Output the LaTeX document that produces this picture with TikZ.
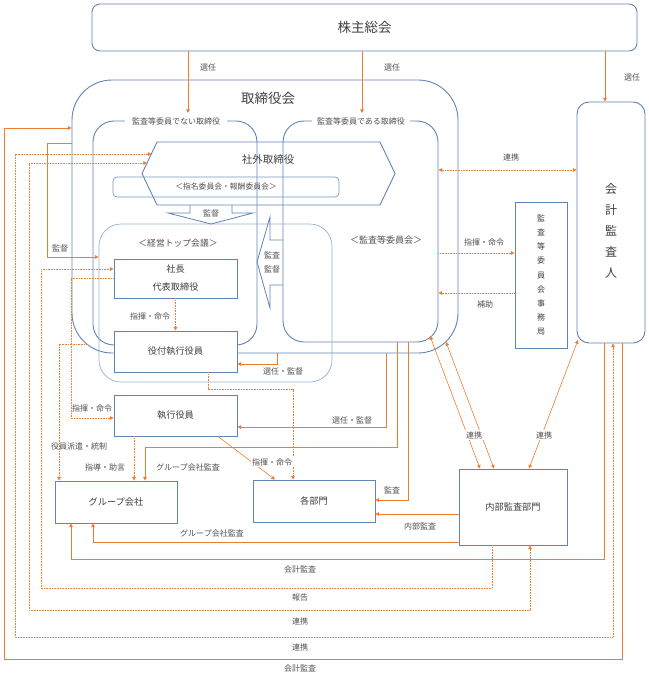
\documentclass[tikz,border=0pt]{standalone}
\usepackage{fontspec}
\setmainfont{Noto Sans CJK JP}
\usetikzlibrary{arrows.meta}
\definecolor{bblue}{RGB}{96,132,180}
\definecolor{lblue}{RGB}{150,176,212}
\definecolor{orng}{RGB}{237,125,49}
\definecolor{tgray}{RGB}{64,64,64}
\definecolor{lgray}{RGB}{80,80,80}
\begin{document}
\begin{tikzpicture}[x=1pt,y=-1pt,
  >={Triangle[length=3.6pt,width=3.6pt]},
  frame/.style={draw=bblue, line width=0.9pt},
  box/.style={draw=bblue, line width=0.9pt, fill=white, text=tgray, align=center, inner sep=0pt, font=\fontsize{9.2}{18}\selectfont},
  lbl/.style={text=lgray, font=\fontsize{8}{9}\selectfont, inner sep=1pt},
  wlbl/.style={lbl, fill=white, inner sep=1.5pt},
  ol/.style={draw=orng, line width=0.9pt},
  od/.style={draw=orng, line width=0.8pt, dash pattern=on 0.9pt off 0.7pt},
  othin/.style={draw=orng, line width=0.6pt}]
\useasboundingbox (0,0) rectangle (648,674);

% ---- frames of the board
\node[frame, rounded corners=40pt, minimum width=386pt, minimum height=273pt] (board) at (265,216.5) {};
\node[frame, rounded corners=21pt, minimum width=164pt, minimum height=224pt] (nonaud) at (175,233) {};
\node[frame, rounded corners=21pt, minimum width=155pt, minimum height=221pt] (aud) at (360.5,231.5) {};
\node[draw=lblue, line width=0.7pt, rounded corners=22pt, minimum width=233pt, minimum height=158pt] (topm) at (215.5,303) {};

\node[lbl, fill=white, inner xsep=7pt] (nonaudT) at (176,121) {監査等委員でない取締役};
\node[lbl, fill=white, inner xsep=5pt] (audT) at (361,121) {監査等委員である取締役};
\node[text=tgray, font=\fontsize{13.5}{14}\selectfont] (boardT) at (268,98) {取締役会};

% ---- outside directors
\draw[frame] (157,142) -- (380,142) -- (395,173.5) -- (380,205) -- (157,205) -- (142,173.5) -- cycle;
\node[text=tgray, font=\fontsize{10.5}{12}\selectfont] (gaibu) at (268,160) {社外取締役};
\node[draw=bblue!85, line width=0.7pt, rounded corners=4pt, minimum width=226pt, minimum height=20pt, inner sep=0pt, text=lgray, font=\fontsize{7.8}{9}\selectfont] (nomi) at (226,187) {＜指名委員会・報酬委員会＞};

% block arrows
\draw[frame, line width=0.8pt] (190,205) -- (190,213) -- (168,213) -- (211,224) -- (253,213) -- (232,213) -- (232,205);
\node[lbl] (kantoku1) at (211,213) {監督};
\draw[frame, line width=0.8pt] (283,240) -- (270,240) -- (270,217) -- (257,262) -- (270,308) -- (270,285) -- (283,285);
\node[lbl] (kansa1) at (272,255) {監査};
\node[lbl] (kantoku2) at (272,269) {監督};

\node[lbl, font=\fontsize{8.8}{10}\selectfont] (topT) at (178,243) {＜経営トップ会議＞};
\node[lbl, font=\fontsize{9}{10}\selectfont] (audC) at (386,240) {＜監査等委員会＞};

% ---- boxes
\node[box, rounded corners=8pt, minimum width=545pt, minimum height=47pt, font=\fontsize{13.5}{14}\selectfont] (soukai) at (364.5,27.5) {株主総会};
\node[box, minimum width=123pt, minimum height=39pt] (shacho) at (175.5,278.5) {社長\\代表取締役};
\node[box, minimum width=123pt, minimum height=41pt] (yaku) at (175.5,351.5) {役付執行役員};
\node[box, minimum width=123pt, minimum height=41pt] (shikko) at (175.5,415.5) {執行役員};
\node[box, minimum width=122pt, minimum height=42pt] (group) at (116,502) {グループ会社};
\node[box, minimum width=122pt, minimum height=42pt] (bumon) at (314,501) {各部門};
\node[box, minimum width=108pt, minimum height=76pt] (naibu) at (513,507) {内部監査部門};
\node[box, minimum width=52pt, minimum height=146pt, font=\fontsize{8}{14.1}\selectfont] (jimu) at (541,275) {監\\査\\等\\委\\員\\会\\事\\務\\局};
\node[box, rounded corners=12pt, minimum width=68pt, minimum height=241pt] (kaikei) at (611,222.5) {};
\node[text=tgray, align=center, font=\fontsize{12}{21}\selectfont] (kaikeiT) at (611,231) {会\\計\\監\\査\\人};

% ---- coordinates
\coordinate (s1) at (188,113);
\coordinate (s2) at (362,113);
\coordinate (s3) at (605,0);
\coordinate (k4a) at (622,659); \coordinate (k4b) at (4,659); \coordinate (k4c) at (4,128);
\coordinate (r5a) at (613,637); \coordinate (r5b) at (15,637); \coordinate (r5c) at (15,154); \coordinate (hexA) at (151.5,154);
\coordinate (r6a) at (530,610); \coordinate (r6b) at (29,610); \coordinate (r6c) at (29,163); \coordinate (hexB) at (147,163);
\coordinate (h7a) at (492,588); \coordinate (h7b) at (41,588); \coordinate (h7c) at (41,269);
\coordinate (k8a) at (604,559); \coordinate (k8b) at (71,559);
\coordinate (g9a) at (93,542);
\coordinate (n10) at (0,514);
\coordinate (a11a) at (408,500);
\coordinate (a12a) at (397,447); \coordinate (a12b) at (145,447);
\coordinate (b13a) at (386,427);
\coordinate (b14a) at (277,364);
\coordinate (y15a) at (208,389); \coordinate (y15b) at (293,389);
\coordinate (d16a) at (218,0); \coordinate (d16b) at (275,0);
\coordinate (x17) at (134,0);
\coordinate (e18a) at (88,344); \coordinate (e18b) at (59,344);
\coordinate (c19a) at (71,278); \coordinate (c19b) at (71,418);
\coordinate (m20a) at (47,143); \coordinate (m20b) at (47,257);
\coordinate (r22) at (0,170); \coordinate (r23) at (0,253); \coordinate (r24) at (0,293);
\coordinate (t25a) at (430,336); \coordinate (t25b) at (480,0);
\coordinate (t26a) at (446,342); \coordinate (t26b) at (494,0);
\coordinate (t27a) at (578,340); \coordinate (t27b) at (529,0);

% ---- connectors
\draw[ol,->] (soukai.south -| s1) -- (s1);
\draw[ol,->] (soukai.south -| s2) -- (s2);
\draw[ol,->] (soukai.south -| s3) -- (kaikei.north -| s3);
\draw[ol,->] (kaikei.south -| k4a) -- (k4a) -- (k4b) -- (k4c) -- (board.west |- k4c);
\draw[od,<->] (hexA) -- (r5c) -- (r5b) -- (r5a) -- (kaikei.south -| r5a);
\draw[od,<->] (hexB) -- (r6c) -- (r6b) -- (r6a) -- (naibu.south -| r6a);
\draw[od,->] (naibu.south -| h7a) -- (h7a) -- (h7b) -- (h7c) -- (shacho.west |- h7c);
\draw[ol,->] (kaikei.south -| k8a) -- (k8a) -- (k8b) -- (group.south -| k8b);
\draw[ol,->] (naibu.west |- g9a) -- (g9a) -- (group.south -| g9a);
\draw[ol,->] (naibu.west |- n10) -- (bumon.east |- n10);
\draw[ol,->] (aud.south -| a11a) -- (a11a) -- (bumon.east |- a11a);
\draw[ol,->] (aud.south -| a12a) -- (a12a) -- (a12b) -- (group.north -| a12b);
\draw[ol,->] (board.south -| b13a) -- (b13a) -- (shikko.east |- b13a);
\draw[ol,->] (board.south -| b14a) -- (b14a) -- (yaku.east |- b14a);
\draw[od,->] (yaku.south -| y15a) -- (y15a) -- (y15b) -- (bumon.north -| y15b);
\draw[othin,->] (shikko.south -| d16a) -- (bumon.north -| d16b);
\draw[od,->] (shikko.south -| x17) -- (group.north -| x17);
\draw[od,->] (e18a) -- (e18b) -- (group.north -| e18b);
\draw[od,->] (shacho.west |- c19a) -- (c19a) -- (c19b) -- (shikko.west |- c19b);
\draw[ol,->] (board.west |- m20a) -- (m20a) -- (m20b) -- (topm.west |- m20b);
\draw[od,->] (shacho.south) -- (yaku.north);
\draw[od,<->] (aud.east |- r22) -- (kaikei.west |- r22);
\draw[od,->] (aud.east |- r23) -- (jimu.west |- r23);
\draw[od,->] (jimu.west |- r24) -- (aud.east |- r24);
\draw[othin,<->] (t25a) -- (naibu.north -| t25b);
\draw[othin,<->] (t26a) -- (naibu.north -| t26b);
\draw[othin,<->] (t27a) -- (naibu.north -| t27b);

% ---- labels
\node[lbl] (l1) at (208,67) {選任};
\node[lbl] (l2) at (392,67) {選任};
\node[lbl] (l3) at (632,77) {選任};
\node[lbl] (l4) at (300,668) {会計監査};
\node[lbl] (l5) at (300,647) {連携};
\node[lbl] (l6) at (300,621) {連携};
\node[lbl] (l7) at (300,597) {報告};
\node[lbl] (l8) at (300,569) {会計監査};
\node[lbl] (l9) at (212,533) {グループ会社監査};
\node[lbl] (l10) at (420,526) {内部監査};
\node[lbl] (l11) at (392,490) {監査};
\node[lbl] (l12) at (188,467) {グループ会社監査};
\node[lbl] (l13) at (352,420) {選任・監督};
\node[lbl] (l14) at (283,371) {選任・監督};
\node[wlbl] (l16) at (272,462) {指揮・命令};
\node[lbl] (l17) at (105,467) {指導・助言};
\node[lbl] (l18) at (79,446) {役員派遣・統制};
\node[lbl] (l19) at (92,408) {指揮・命令};
\node[lbl] (l20) at (60,248) {監督};
\node[lbl] (l21) at (150,316) {指揮・命令};
\node[lbl] (l22) at (511,157) {連携};
\node[lbl] (l23) at (484,242) {指揮・命令};
\node[lbl] (l24) at (485,304) {補助};
\node[wlbl] (l25) at (474,435) {連携};
\node[wlbl] (l27) at (544,435) {連携};
\end{tikzpicture}
\end{document}
